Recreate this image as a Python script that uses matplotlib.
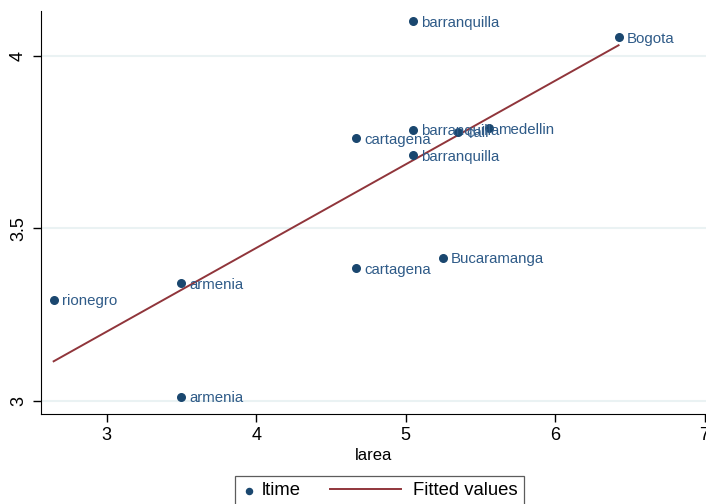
import numpy as np
import matplotlib.pyplot as plt
from matplotlib.lines import Line2D
from matplotlib.legend_handler import HandlerLine2D

# city-level log area vs log time
city = ['barranquilla', 'Bogota', 'barranquilla', 'cartagena', 'cali', 'medellin',
        'barranquilla', 'Bucaramanga', 'cartagena', 'armenia', 'rionegro', 'armenia']
larea = [5.047, 6.425, 5.047, 4.666, 5.348, 5.560,
         5.047, 5.247, 4.666, 3.500, 2.645, 3.500]
ltime = [4.100, 4.054, 3.785, 3.761, 3.779, 3.790,
         3.712, 3.414, 3.384, 3.341, 3.292, 3.011]

xticks = [3, 4, 5, 6, 7]
yticks = [3, 3.5, 4]

navy = '#1a476f'
label_col = '#2f5b88'
maroon = '#90353b'


class LongLine(HandlerLine2D):
    """legend line that reaches left into the column gap"""
    def create_artists(self, legend, orig_handle, xdescent, ydescent,
                       width, height, fontsize, trans):
        yc = height / 2 - ydescent
        line = Line2D([-xdescent - 3.4 * fontsize, width - xdescent - 0.38 * fontsize],
                      [yc, yc])
        self.update_prop(line, orig_handle, legend)
        line.set_transform(trans)
        return [line]


plt.rcParams['font.family'] = ['Liberation Sans', 'DejaVu Sans']

fig = plt.figure(figsize=(7.06, 5.04), dpi=100)
ax = fig.add_axes([0.058, 0.179, 0.942, 0.799])

x = np.array(larea)
y = np.array(ltime)
b, a = np.polyfit(x, y, 1)
xs = np.array([x.min(), x.max()])

fit, = ax.plot(xs, a + b * xs, color=maroon, lw=1.4, label='Fitted values', zorder=2)
sc = ax.scatter(x, y, s=30, color=navy, label='ltime', zorder=3)
for name, xi, yi in zip(city, larea, ltime):
    ax.annotate(name, (xi, yi), xytext=(6, -1), textcoords='offset points',
                va='center', ha='left', color=label_col, fontsize=10.8, zorder=4)

ax.set_xlim(2.56, 7.01)
ax.set_ylim(2.962, 4.13)
ax.set_xticks(xticks)
ax.set_xticklabels([str(t) for t in xticks])
ax.set_yticks(yticks)
ax.set_yticklabels(['3', '3.5', '4'], rotation=90, va='center')
ax.tick_params(labelsize=13, length=6, width=1, colors='black')
ax.tick_params(axis='y', pad=4)
ax.grid(axis='y', color='#eaf2f3', lw=1.5)
ax.set_axisbelow(True)
for s in ['top', 'right']:
    ax.spines[s].set_visible(False)
ax.set_xlabel('larea', fontsize=12, labelpad=3)

leg = fig.legend([sc, fit], ['ltime', 'Fitted values'], loc='upper center',
                 bbox_to_anchor=(0.5375, 0.0556), borderaxespad=0, ncol=2,
                 fontsize=13.3, frameon=True, fancybox=False, edgecolor='#333333',
                 handlelength=0.8, handletextpad=0.3, columnspacing=5.0,
                 borderpad=0.35, markerscale=0.8,
                 handler_map={Line2D: LongLine()})
leg.get_frame().set_linewidth(0.9)

fig.savefig('out.png', dpi=100)
